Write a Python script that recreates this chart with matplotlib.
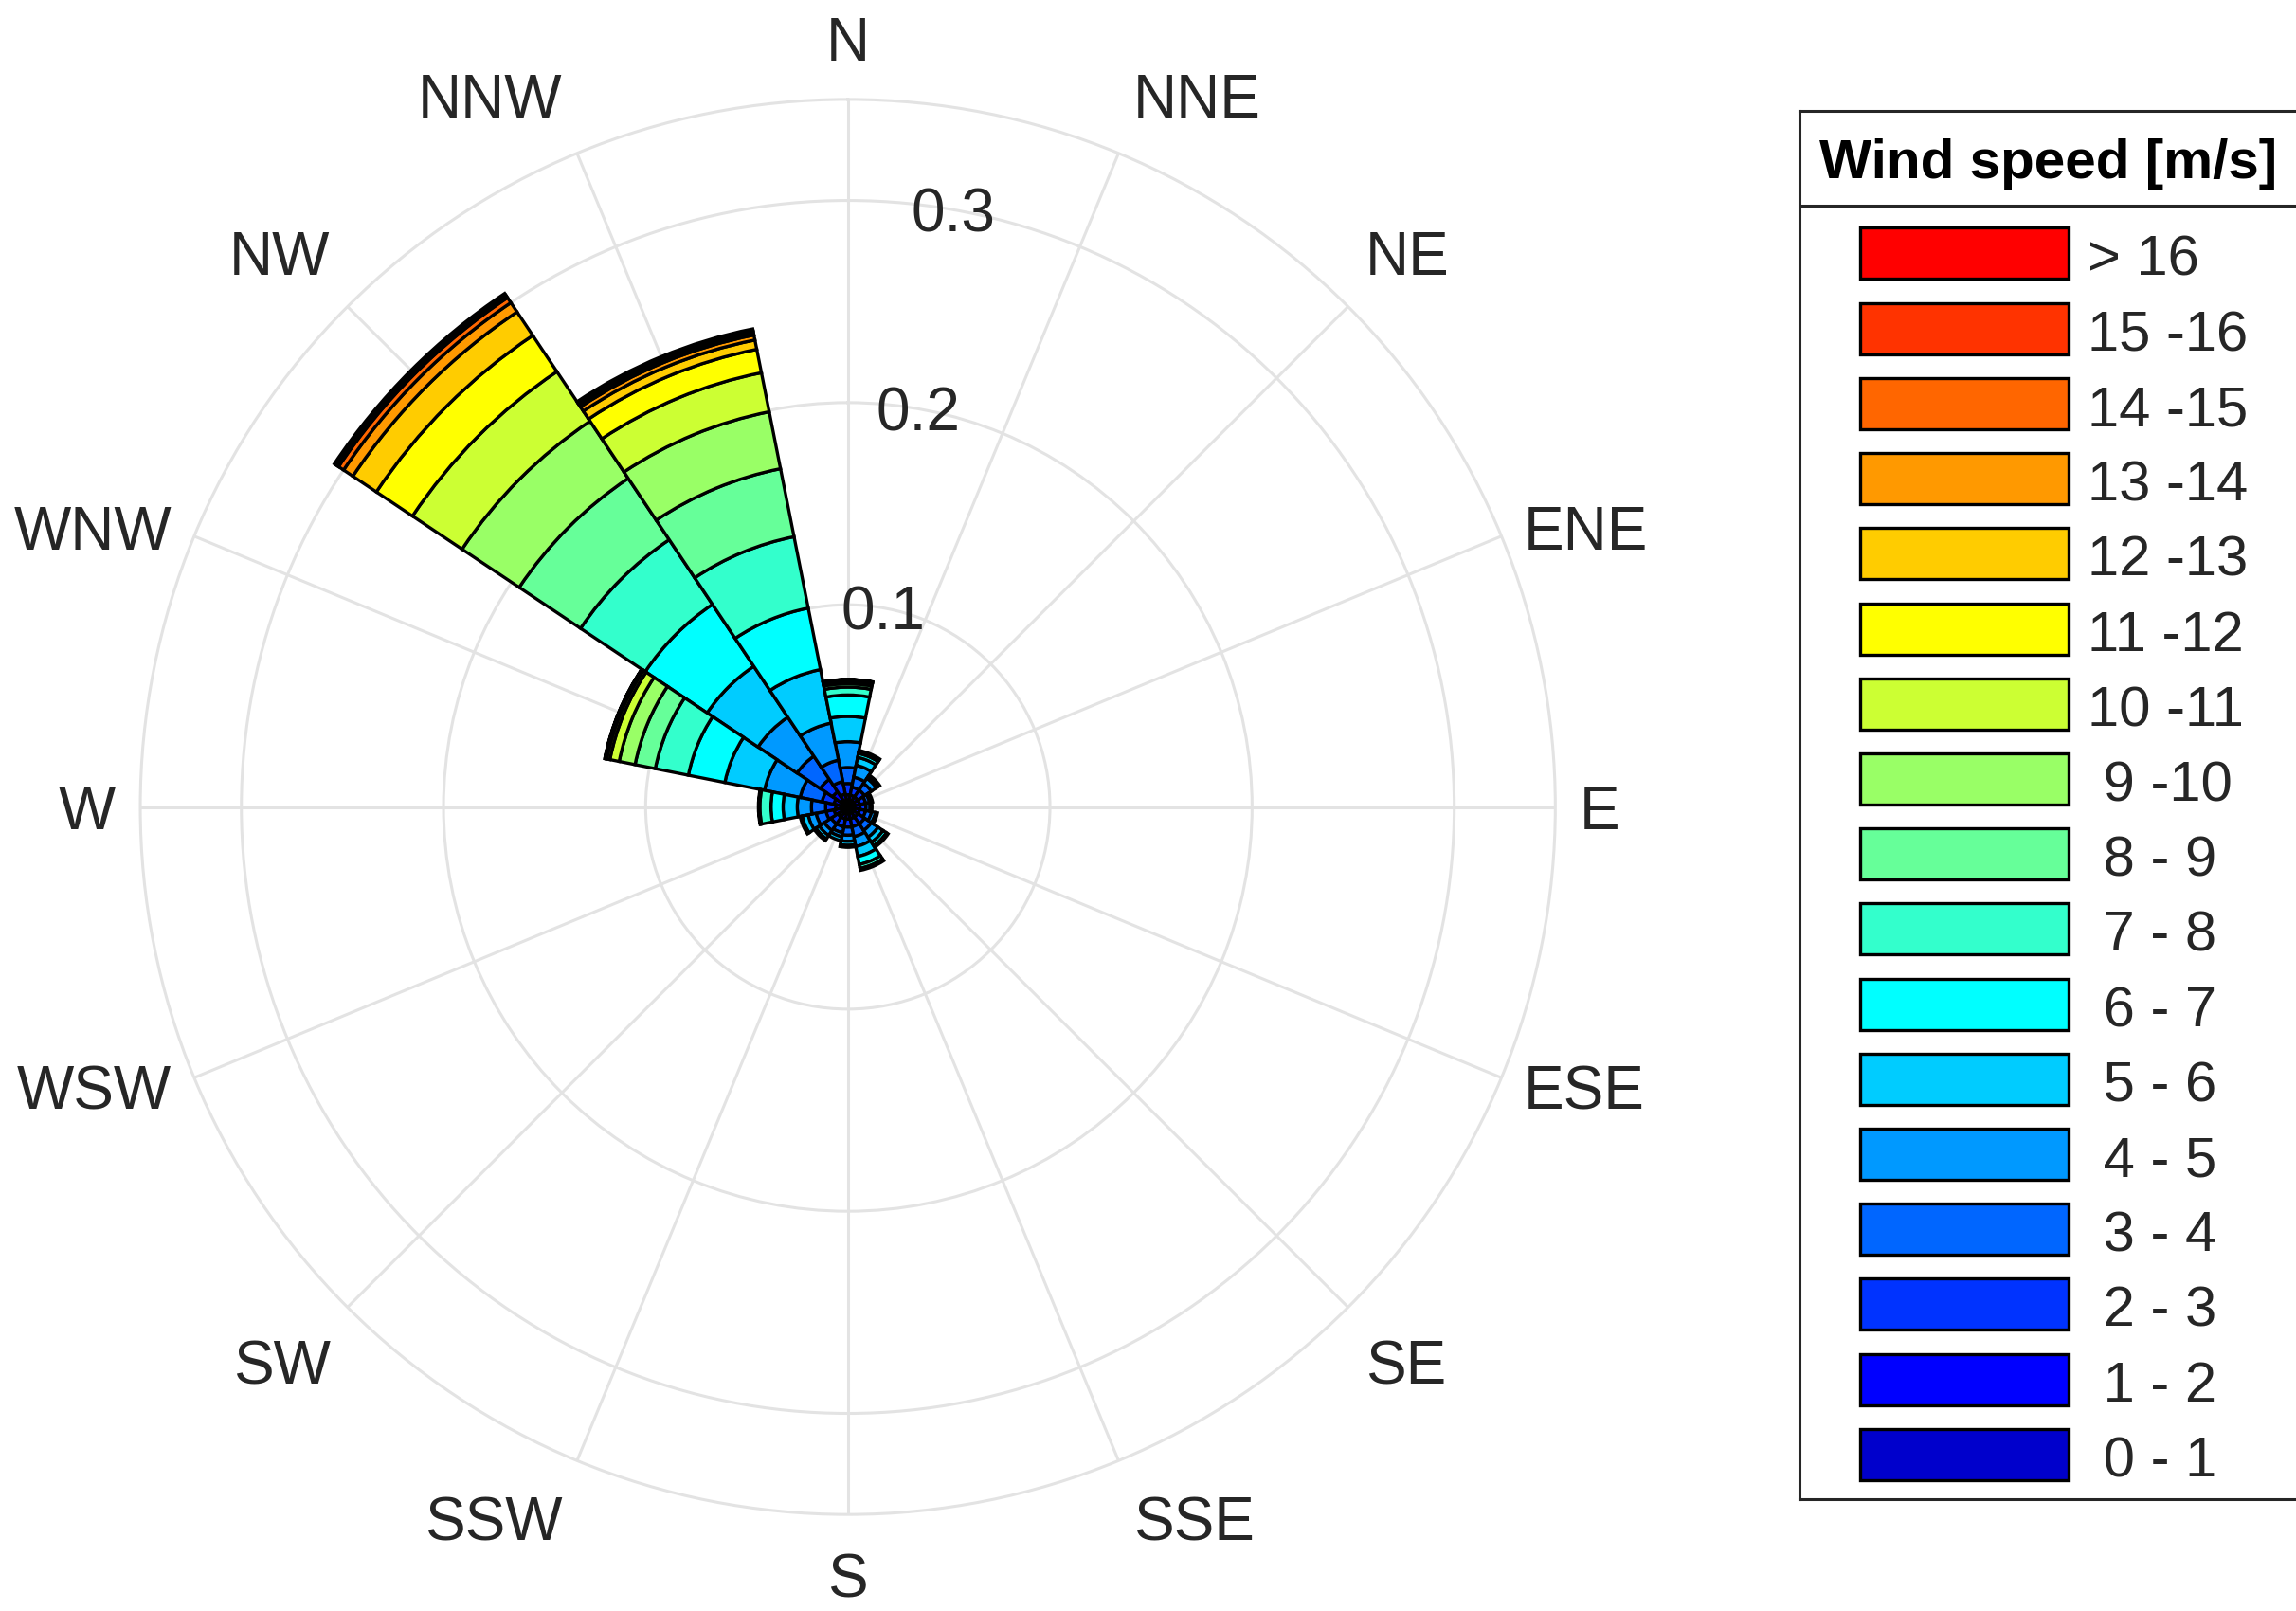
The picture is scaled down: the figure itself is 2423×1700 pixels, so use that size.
import numpy as np
import matplotlib.pyplot as plt
from matplotlib.patches import Rectangle

plt.rcParams["font.family"] = ["Liberation Sans", "DejaVu Sans"]

# compass sectors, clockwise from north
DIRECTIONS = ["N", "NNE", "NE", "ENE", "E", "ESE", "SE", "SSE",
              "S", "SSW", "SW", "WSW", "W", "WNW", "NW", "NNW"]

# speed bins, slowest first
SPEED_LABELS = [" 0 - 1", " 1 - 2", " 2 - 3", " 3 - 4", " 4 - 5", " 5 - 6",
                " 6 - 7", " 7 - 8", " 8 - 9", " 9 -10", "10 -11", "11 -12",
                "12 -13", "13 -14", "14 -15", "15 -16", "> 16"]
SPEED_COLORS = ["#0000CC", "#0000FF", "#0033FF", "#0066FF", "#0099FF", "#00CCFF",
                "#00FFFF", "#33FFCC", "#66FF99", "#99FF66", "#CCFF33", "#FFFF00",
                "#FFCC00", "#FF9900", "#FF6600", "#FF3300", "#FF0000"]

# relative frequency of each speed bin per direction
freq_N = [0.003, 0.003, 0.0056, 0.0079, 0.0128, 0.0125, 0.0106, 0.0039, 0.0017,
          0.0010, 0.0007, 0.0003, 0.0001, 0, 0, 0, 0]
freq_NNE = [0.003, 0.003, 0.004, 0.005, 0.006, 0.004, 0.002, 0.001, 0.0005,
            0, 0, 0, 0, 0, 0, 0, 0]
freq_NE = [0.003, 0.003, 0.004, 0.004, 0.003, 0.0015, 0.0005, 0, 0,
           0, 0, 0, 0, 0, 0, 0, 0]
freq_ENE = [0.003, 0.003, 0.003, 0.002, 0.001, 0.0005, 0, 0, 0,
            0, 0, 0, 0, 0, 0, 0, 0]
freq_E = [0.003, 0.003, 0.003, 0.002, 0.001, 0, 0, 0, 0,
          0, 0, 0, 0, 0, 0, 0, 0]
freq_ESE = [0.003, 0.003, 0.003, 0.003, 0.002, 0.001, 0, 0, 0,
            0, 0, 0, 0, 0, 0, 0, 0]
freq_SE = [0.003, 0.003, 0.004, 0.004, 0.004, 0.003, 0.002, 0.001, 0,
           0, 0, 0, 0, 0, 0, 0, 0]
freq_SSE = [0.003, 0.003, 0.004, 0.005, 0.005, 0.005, 0.004, 0.002, 0.001,
            0, 0, 0, 0, 0, 0, 0, 0]
freq_S = [0.003, 0.003, 0.004, 0.004, 0.003, 0.002, 0.001, 0, 0,
          0, 0, 0, 0, 0, 0, 0, 0]
freq_SSW = [0.003, 0.003, 0.004, 0.003, 0.002, 0.002, 0, 0, 0,
            0, 0, 0, 0, 0, 0, 0, 0]
freq_SW = [0.003, 0.003, 0.004, 0.004, 0.003, 0.002, 0.001, 0, 0,
           0, 0, 0, 0, 0, 0, 0, 0]
freq_WSW = [0.003, 0.004, 0.004, 0.005, 0.004, 0.003, 0.001, 0, 0,
            0, 0, 0, 0, 0, 0, 0, 0]
freq_W = [0.003, 0.003, 0.005, 0.007, 0.007, 0.007, 0.006, 0.0055, 0.0005,
          0.0002, 0, 0, 0, 0, 0, 0, 0]
freq_WNW = [0.003, 0.004, 0.006, 0.011, 0.018, 0.020, 0.0184, 0.0167, 0.0102,
            0.008, 0.0047, 0.0016, 0.0006, 0.0003, 0.0001, 0, 0]
freq_NW = [0.004, 0.005, 0.0074, 0.0138, 0.0232, 0.0303, 0.0368, 0.0385, 0.0365,
           0.0340, 0.0295, 0.0215, 0.0140, 0.0055, 0.0030, 0.0015, 0.0010]
freq_NNW = [0.003, 0.0035, 0.0063, 0.0108, 0.0187, 0.027, 0.031, 0.036, 0.0343,
            0.0287, 0.0197, 0.0118, 0.0047, 0.0025, 0.0015, 0.0010, 0.0006]

RING_TICKS = [0.1, 0.2, 0.3]
R_MAX = 0.35

freq = np.array([freq_N, freq_NNE, freq_NE, freq_ENE, freq_E, freq_ESE, freq_SE,
                 freq_SSE, freq_S, freq_SSW, freq_SW, freq_WSW, freq_W, freq_WNW,
                 freq_NW, freq_NNW])

GRID_COLOR = "#e3e3e3"
TEXT_COLOR = "#262626"

fig = plt.figure(figsize=(24.23, 17.0), dpi=100)
ax = fig.add_axes([0.0611, 0.0599, 0.6163, 0.8784], projection="polar")
ax.set_theta_zero_location("N")
ax.set_theta_direction(-1)

theta = np.deg2rad(np.arange(len(DIRECTIONS)) * 360 / len(DIRECTIONS))
width = 2 * np.pi / len(DIRECTIONS)

# stacked sectors, one ring per speed bin
bottom = np.zeros(len(DIRECTIONS))
for k in range(freq.shape[1]):
    vals = freq[:, k]
    mask = vals > 0
    ax.bar(theta[mask], vals[mask], width=width, bottom=bottom[mask],
           color=SPEED_COLORS[k], edgecolor="black", linewidth=2.4, zorder=3)
    bottom += vals

ax.set_ylim(0, R_MAX)
ax.set_yticks(RING_TICKS)
ax.set_yticklabels([])
ax.set_xticks(theta)
ax.set_xticklabels([])
ax.grid(True, color=GRID_COLOR, linewidth=2.2)
ax.set_axisbelow(True)
ax.spines["polar"].set_color(GRID_COLOR)
ax.spines["polar"].set_linewidth(2.2)

# compass labels around the rim
for ang, name in zip(theta, DIRECTIONS):
    s, c = np.sin(ang), np.cos(ang)
    ha = "center" if abs(s) < 0.1 else ("left" if s > 0 else "right")
    if abs(c) < 0.5:
        va, r = "center_baseline", 0.362
    else:
        va, r = ("baseline" if c > 0 else "top"), 0.369
    off = (0, 0)
    if abs(abs(s) - abs(c)) < 0.01:
        # diagonal labels sit a little closer in
        off = (-7.5 * np.sign(s), 3.5 * np.sign(c))
    ax.annotate(name, xy=(ang, r), xytext=off, textcoords="offset points",
                ha=ha, va=va, fontsize=46, color=TEXT_COLOR,
                annotation_clip=False)

for r in RING_TICKS:
    ax.text(np.deg2rad(10), r, f"{r:.1f}", ha="center", va="center_baseline",
            fontsize=46, color=TEXT_COLOR, zorder=5)

# legend box with speed classes
x0, x1, y_top, y_bot = 1899, 2480, 117, 1582
lax = fig.add_axes([x0 / 2423, 1 - y_bot / 1700, (x1 - x0) / 2423, (y_bot - y_top) / 1700])
lax.set_xlim(x0, x1)
lax.set_ylim(y_bot, y_top)
lax.set_xticks([])
lax.set_yticks([])
for sp in lax.spines.values():
    sp.set_color(TEXT_COLOR)
    sp.set_linewidth(2.2)
lax.axhline(217, color=TEXT_COLOR, linewidth=2.2)
lax.text(1920, 167, "Wind speed [m/s]", fontsize=42, fontweight="bold",
         ha="left", va="center_baseline", color="black")

n_bins = len(SPEED_LABELS)
for i in range(n_bins):
    k = n_bins - 1 - i
    yc = 267.5 + i * 79.2
    lax.add_patch(Rectangle((1963, yc - 27), 220, 54, facecolor=SPEED_COLORS[k],
                            edgecolor="black", linewidth=2.4))
    lax.text(2203, yc + 2, SPEED_LABELS[k], fontsize=43, ha="left",
             va="center_baseline", color=TEXT_COLOR)

fig.savefig("out.png", dpi=100)
